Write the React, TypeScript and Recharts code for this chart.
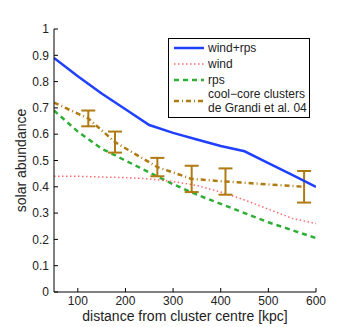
import { ComposedChart, Line, XAxis, YAxis, ErrorBar } from 'recharts';

const radius = [50, 100, 150, 200, 250, 300, 350, 400, 450, 500, 550, 600];
const windRps = [0.89, 0.82, 0.755, 0.695, 0.635, 0.605, 0.58, 0.555, 0.535, 0.49, 0.445, 0.4];
const wind = [0.44, 0.44, 0.437, 0.435, 0.43, 0.42, 0.405, 0.38, 0.35, 0.315, 0.28, 0.26];
const rps = [0.69, 0.61, 0.545, 0.5, 0.455, 0.41, 0.37, 0.335, 0.3, 0.265, 0.235, 0.205];

const obsRadius = [50, 122, 178, 267, 339, 410, 575];
const obsValue = [0.72, 0.66, 0.57, 0.475, 0.43, 0.42, 0.4];
const obsError = [null, 0.03, 0.04, 0.035, 0.05, 0.05, 0.06];

const xTicks = [100, 200, 300, 400, 500, 600];
const yTicks = [0, 0.1, 0.2, 0.3, 0.4, 0.5, 0.6, 0.7, 0.8, 0.9, 1];

const BLUE = '#2040ff';
const RED = '#ff6b6b';
const GREEN = '#2fae35';
const BROWN = '#b07a12';
const FONT = '"Liberation Sans", Arial, sans-serif';

const modelData = radius.map((r, i) => ({ r, windRps: windRps[i], wind: wind[i], rps: rps[i] }));
const obsData = obsRadius.map((r, i) => ({
  r,
  obs: obsValue[i],
  err: obsError[i] == null ? undefined : obsError[i],
}));

const BottomTick = (props: any) => {
  const { x, y, payload } = props;
  return (
    <g>
      <line x1={x} x2={x} y1={y - 4} y2={y - 8} stroke="#000" strokeWidth={1} />
      <text x={x} y={y} dy="0.71em" textAnchor="middle" fontSize={12} fontFamily={FONT} fill="#222">
        {payload.value}
      </text>
    </g>
  );
};

const LeftTick = (props: any) => {
  const { x, y, payload } = props;
  return (
    <g>
      <line x1={x + 5} x2={x + 9} y1={y} y2={y} stroke="#000" strokeWidth={1} />
      <text x={x} y={y} dy="0.355em" textAnchor="end" fontSize={12} fontFamily={FONT} fill="#222">
        {payload.value}
      </text>
    </g>
  );
};

const TopTick = (props: any) => {
  const { x, y } = props;
  return <line x1={x} x2={x} y1={y} y2={y + 4} stroke="#000" strokeWidth={1} />;
};

const RightTick = (props: any) => {
  const { x, y } = props;
  return <line x1={x} x2={x - 4} y1={y} y2={y} stroke="#000" strokeWidth={1} />;
};

const legendItems = [
  { label: ['wind+rps'], color: BLUE, dash: undefined, width: 2.5 },
  { label: ['wind'], color: RED, dash: '1.5 2.5', width: 1.5 },
  { label: ['rps'], color: GREEN, dash: '5 4', width: 2.5 },
  { label: ['cool\u2212core clusters', 'de Grandi et al. 04'], color: BROWN, dash: '5 3 1 3', width: 2.5 },
];

const LegendBox = () => (
  <svg width={142} height={80} style={{ display: 'block' }}>
    <rect x={0.5} y={0.5} width={141} height={79} fill="#fff" stroke="#000" strokeWidth={1} />
    {legendItems.map((item, i) => {
      const cy = i < 3 ? 10 + i * 16 : 63;
      return (
        <g key={i}>
          <line x1={6} x2={36} y1={cy} y2={cy} stroke={item.color} strokeWidth={item.width} strokeDasharray={item.dash} />
          {item.label.map((t, j) => (
            <text
              key={j}
              x={40}
              y={item.label.length > 1 ? cy - 7 + j * 14 : cy}
              dy="0.35em"
              fontSize={12}
              fontFamily={FONT}
              fill="#222"
            >
              {t}
            </text>
          ))}
        </g>
      );
    })}
  </svg>
);

export default function App() {
  return (
    <div style={{ position: 'absolute', left: 0, top: 0, width: 348, height: 327, background: '#fff' }}>
      <ComposedChart width={348} height={327} margin={{ top: 29, right: 32, bottom: 0, left: 0 }}>
        <XAxis
          xAxisId="bottom"
          dataKey="r"
          type="number"
          domain={[50, 600]}
          ticks={xTicks}
          interval={0}
          height={35}
          tickSize={0}
          tickMargin={4}
          tick={<BottomTick />}
          axisLine={{ stroke: '#000' }}
          tickLine={false}
          allowDataOverflow
          label={{ value: 'distance from cluster centre [kpc]', position: 'insideBottom', offset: 6, fontSize: 14, fontFamily: FONT, fill: '#222' }}
        />
        <XAxis
          xAxisId="top"
          orientation="top"
          type="number"
          domain={[50, 600]}
          ticks={xTicks}
          interval={0}
          height={0}
          tickSize={0}
          tickMargin={0}
          tick={<TopTick />}
          axisLine={{ stroke: '#000' }}
          tickLine={false}
          allowDataOverflow
        />
        <YAxis
          yAxisId="left"
          type="number"
          domain={[0, 1]}
          ticks={yTicks}
          interval={0}
          width={54}
          tickSize={0}
          tickMargin={5}
          tick={<LeftTick />}
          axisLine={{ stroke: '#000' }}
          tickLine={false}
          allowDataOverflow
          label={{ value: 'solar abundance', angle: -90, position: 'insideLeft', offset: 21, style: { textAnchor: 'middle' }, fontSize: 14, fontFamily: FONT, fill: '#222' }}
        />
        <YAxis
          yAxisId="right"
          orientation="right"
          type="number"
          domain={[0, 1]}
          ticks={yTicks}
          interval={0}
          width={0}
          tickSize={0}
          tickMargin={0}
          tick={<RightTick />}
          axisLine={{ stroke: '#000' }}
          tickLine={false}
          allowDataOverflow
        />
        <Line
          xAxisId="bottom"
          yAxisId="left"
          data={modelData}
          dataKey="rps"
          stroke={GREEN}
          strokeWidth={2.5}
          strokeDasharray="5 4"
          dot={false}
          isAnimationActive={false}
        />
        <Line
          xAxisId="bottom"
          yAxisId="left"
          data={modelData}
          dataKey="wind"
          stroke={RED}
          strokeWidth={1.5}
          strokeDasharray="1.5 2.5"
          dot={false}
          isAnimationActive={false}
        />
        <Line
          xAxisId="bottom"
          yAxisId="left"
          data={obsData}
          dataKey="obs"
          stroke={BROWN}
          strokeWidth={2.5}
          strokeDasharray="5 3 1 3"
          dot={false}
          isAnimationActive={false}
        >
          <ErrorBar dataKey="err" direction="y" width={7} stroke={BROWN} strokeWidth={2} />
        </Line>
        <Line
          xAxisId="bottom"
          yAxisId="left"
          data={modelData}
          dataKey="windRps"
          stroke={BLUE}
          strokeWidth={2.5}
          dot={false}
          isAnimationActive={false}
        />
      </ComposedChart>
      <div style={{ position: 'absolute', left: 168, top: 38 }}>
        <LegendBox />
      </div>
    </div>
  );
}
